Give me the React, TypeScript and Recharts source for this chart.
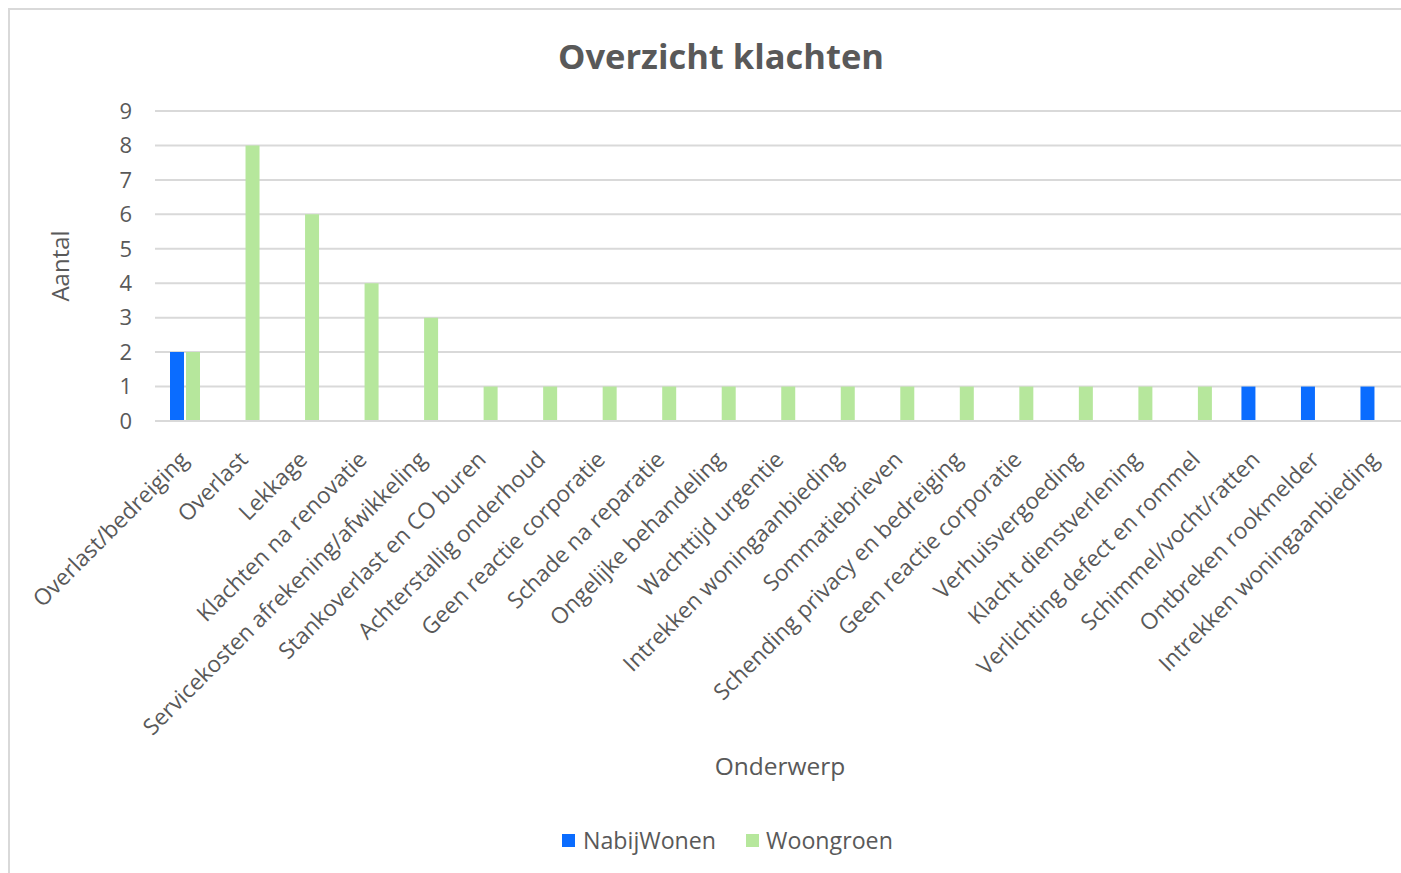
import { BarChart, Bar, XAxis, YAxis, CartesianGrid, Label } from 'recharts';

const categories = [
  'Overlast/bedreiging',
  'Overlast',
  'Lekkage',
  'Klachten na renovatie',
  'Servicekosten afrekening/afwikkeling',
  'Stankoverlast en CO buren',
  'Achterstallig onderhoud',
  'Geen reactie corporatie',
  'Schade na reparatie',
  'Ongelijke behandeling',
  'Wachttijd urgentie',
  'Intrekken woningaanbieding',
  'Sommatiebrieven',
  'Schending privacy en bedreiging',
  'Geen reactie corporatie',
  'Verhuisvergoeding',
  'Klacht dienstverlening',
  'Verlichting defect en rommel',
  'Schimmel/vocht/ratten',
  'Ontbreken rookmelder',
  'Intrekken woningaanbieding',
];

const nabijWonen = [2, null, null, null, null, null, null, null, null, null, null, null, null, null, null, null, null, null, 1, 1, 1];
const woongroen = [2, 8, 6, 4, 3, 1, 1, 1, 1, 1, 1, 1, 1, 1, 1, 1, 1, 1, null, null, null];

const yTicks = [0, 1, 2, 3, 4, 5, 6, 7, 8, 9];

const data = categories.map((name, i) => ({
  name,
  NabijWonen: nabijWonen[i],
  Woongroen: woongroen[i],
}));

const FONT = '"Open Sans", sans-serif';
const TEXT = '#595959';
const GRID = '#d9d9d9';
const BLUE = '#0a6cff';
const GREEN = '#b6e79c';

// rotated category labels, anchored at their end like Excel does
const AngledTick = (props: any) => {
  const { x, y, payload } = props;
  const px = x + 5;
  const py = y + 38;
  return (
    <text
      x={px}
      y={py}
      textAnchor="end"
      fill={TEXT}
      fontSize={22.6}
      fontFamily={FONT}
      transform={`rotate(-45, ${px}, ${py})`}
    >
      {payload.value}
    </text>
  );
};

export default function App() {
  return (
    <div
      style={{
        position: 'fixed',
        left: 8,
        top: 8,
        width: 1420,
        height: 880,
        boxSizing: 'border-box',
        borderTop: `2px solid ${GRID}`,
        borderLeft: `2px solid ${GRID}`,
        overflow: 'hidden',
        background: '#fff',
        fontFamily: FONT,
      }}
    >
      <div
        style={{
          position: 'absolute',
          left: 0,
          width: 1422,
          top: 25,
          textAlign: 'center',
          fontSize: 34.5,
          fontWeight: 700,
          color: TEXT,
          lineHeight: '42px',
        }}
      >
        Overzicht klachten
      </div>

      <BarChart
        width={1410}
        height={853}
        data={data}
        margin={{ top: 101, right: 15, left: 0, bottom: 0 }}
        barSize={14}
        barGap={2}
      >
        <CartesianGrid vertical={false} stroke={GRID} strokeWidth={2} />
        <XAxis
          dataKey="name"
          interval={0}
          height={442}
          tickSize={0}
          tickLine={false}
          axisLine={{ stroke: GRID, strokeWidth: 2 }}
          tick={<AngledTick />}
        >
          <Label value="Onderwerp" position="center" dy={124} fill={TEXT} fontSize={24.5} fontFamily={FONT} />
        </XAxis>
        <YAxis
          width={145}
          domain={[0, 9]}
          ticks={yTicks}
          interval={0}
          tickSize={0}
          tickMargin={23}
          axisLine={false}
          tickLine={false}
          tick={{ fill: TEXT, fontSize: 22, fontFamily: FONT }}
        >
          <Label value="Aantal" angle={-90} position="center" dx={-22} fill={TEXT} fontSize={24} fontFamily={FONT} />
        </YAxis>
        <Bar dataKey="NabijWonen" fill={BLUE} isAnimationActive={false} />
        <Bar dataKey="Woongroen" fill={GREEN} isAnimationActive={false} />
      </BarChart>

      <div
        style={{
          position: 'absolute',
          left: 552,
          top: 815,
          display: 'flex',
          alignItems: 'center',
          fontSize: 23.2,
          color: TEXT,
          lineHeight: '30px',
        }}
      >
        <span style={{ width: 13, height: 13, background: BLUE, display: 'inline-block', marginRight: 8 }} />
        <span style={{ marginRight: 30 }}>NabijWonen</span>
        <span style={{ width: 13, height: 13, background: GREEN, display: 'inline-block', marginRight: 7 }} />
        <span>Woongroen</span>
      </div>
    </div>
  );
}
